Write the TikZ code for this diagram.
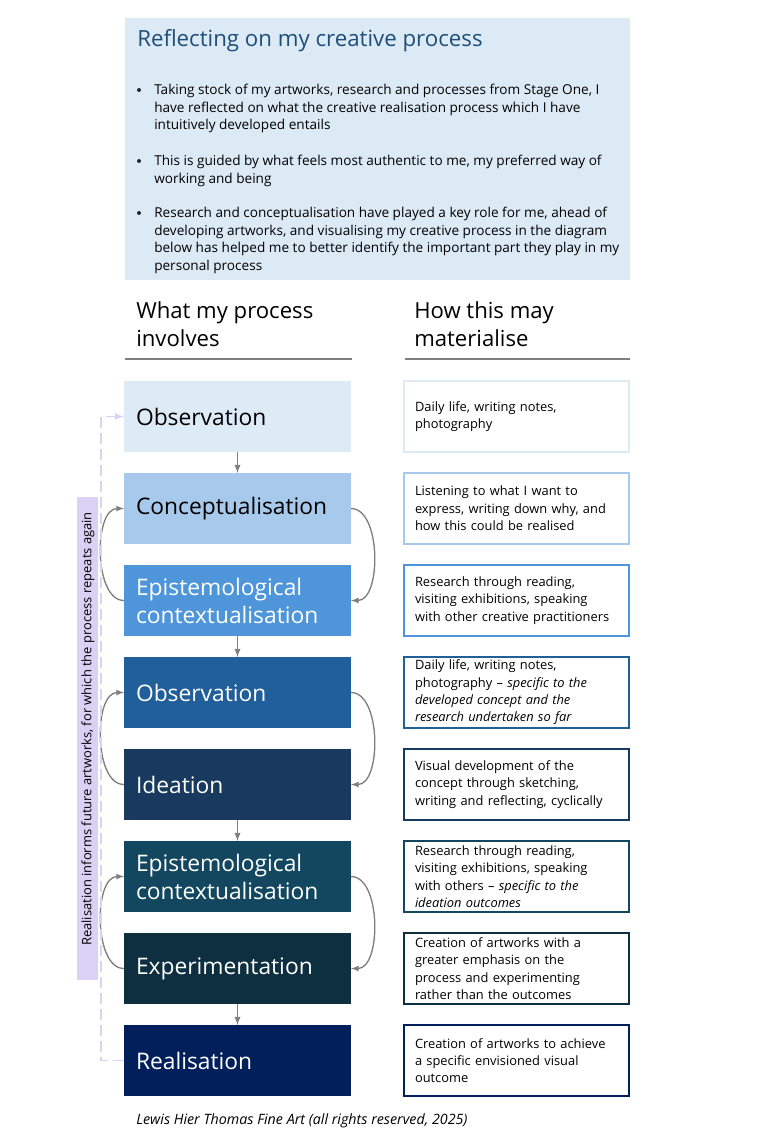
\documentclass[tikz,border=0pt]{standalone}
\usepackage{fontspec}
\setmainfont{Open Sans}
\usetikzlibrary{positioning,arrows}

\definecolor{introblue}{HTML}{DCEAF6}
\definecolor{titleblue}{HTML}{1F4E79}
\definecolor{obsone}{HTML}{DDEBF7}
\definecolor{concept}{HTML}{A6C9EC}
\definecolor{epione}{HTML}{4E95D9}
\definecolor{obstwo}{HTML}{215F9A}
\definecolor{ideation}{HTML}{183A5E}
\definecolor{epitwo}{HTML}{12475F}
\definecolor{experiment}{HTML}{0E2F40}
\definecolor{realise}{HTML}{001F5B}
\definecolor{lavender}{HTML}{D9D2F4}
\definecolor{arrowgrey}{HTML}{7F7F7F}

\tikzset{
  introbox/.style={anchor=north west, fill=introblue, minimum width=378.75pt, minimum height=196.5pt, inner sep=0pt},
  bulletdot/.style={circle, fill=black!85, inner sep=0pt, minimum size=3pt},
  bullettext/.style={anchor=north west, inner sep=0pt, align=left, font=\fontsize{10.2}{13.1}\selectfont},
  headtext/.style={anchor=north west, inner sep=0pt, align=left, font=\fontsize{16.6}{21}\selectfont},
  stepbox/.style={anchor=north west, minimum width=170.25pt, minimum height=53.25pt, inner xsep=9pt, inner ysep=0pt,
    text width=152.25pt, align=left, outer sep=0pt, font=\fontsize{17.1}{21}\selectfont},
  notebox/.style={anchor=north west, draw, line width=1.5pt, fill=white, minimum width=168.75pt, minimum height=53.25pt,
    inner xsep=8.25pt, inner ysep=0pt, text width=152.25pt, align=left, outer sep=0pt, font=\fontsize{9.65}{13}\selectfont},
  flowarrow/.style={-latex, draw=arrowgrey, line width=1.1pt},
  looparrow/.style={-latex, draw=arrowgrey, line width=1pt},
  repeatline/.style={-latex, draw=lavender, dashed, dash pattern=on 8pt off 4pt, line width=1.3pt}
}

\begin{document}
\begin{tikzpicture}[x=0.75pt, y=-0.75pt]
\useasboundingbox (0,0) rectangle (756,1134);

% introduction
\node[introbox] (intro) at (125,18) {};
\node[anchor=base west, inner sep=0pt, text=titleblue, font=\fontsize{16.7}{20}\selectfont] (title) at (137,47) {Reflecting on my creative process};
\node[bulletdot] (dotA) at (139,90) {};
\node[bullettext] (bulletA) at (154,84) {Taking stock of my artworks, research and processes from Stage One, I\\have reflected on what the creative realisation process which I have\\intuitively developed entails};
\node[bulletdot] (dotB) at (139,161) {};
\node[bullettext] (bulletB) at (154,155) {This is guided by what feels most authentic to me, my preferred way of\\working and being};
\node[bulletdot] (dotC) at (139,213) {};
\node[bullettext] (bulletC) at (154,207) {Research and conceptualisation have played a key role for me, ahead of\\developing artworks, and visualising my creative process in the diagram\\below has helped me to better identify the important part they play in my\\personal process};

% column headings
\node[headtext] (headleft) at (136,301) {What my process\\involves};
\node[headtext] (headright) at (414,301) {How this may\\materialise};
\draw[arrowgrey, line width=1.5pt] (125,359) -- (352,359);
\draw[arrowgrey, line width=1.5pt] (405,359) -- (630,359);

% process steps
\node[stepbox, fill=obsone] (obsA) at (124,381) {Observation};
\node[stepbox, fill=concept] (con) at (124,473) {Conceptualisation};
\node[stepbox, fill=epione, text=white] (epiA) at (124,565) {Epistemological\\contextualisation};
\node[stepbox, fill=obstwo, text=white] (obsB) at (124,657) {Observation};
\node[stepbox, fill=ideation, text=white] (ide) at (124,749) {Ideation};
\node[stepbox, fill=epitwo, text=white] (epiB) at (124,841) {Epistemological\\contextualisation};
\node[stepbox, fill=experiment, text=white] (exper) at (124,933) {Experimentation};
\node[stepbox, fill=realise, text=white] (rea) at (124,1025) {Realisation};

% how it may materialise
\node[notebox, draw=obsone] (noteA) at (404,381) {Daily life, writing notes,\\photography};
\node[notebox, draw=concept] (noteB) at (404,473) {Listening to what I want to\\express, writing down why, and\\how this could be realised};
\node[notebox, draw=epione] (noteC) at (404,565) {Research through reading,\\visiting exhibitions, speaking\\with other creative practitioners};
\node[notebox, draw=obstwo] (noteD) at (404,657) {Daily life, writing notes,\\photography -- \textit{specific to the}\\\textit{developed concept and the}\\\textit{research undertaken so far}};
\node[notebox, draw=ideation] (noteE) at (404,749) {Visual development of the\\concept through sketching,\\writing and reflecting, cyclically};
\node[notebox, draw=epitwo] (noteF) at (404,841) {Research through reading,\\visiting exhibitions, speaking\\with others -- \textit{specific to the}\\\textit{ideation outcomes}};
\node[notebox, draw=experiment] (noteG) at (404,933) {Creation of artworks with a\\greater emphasis on the\\process and experimenting\\rather than the outcomes};
\node[notebox, draw=realise] (noteH) at (404,1025) {Creation of artworks to achieve\\a specific envisioned visual\\outcome};

% flow between steps
\draw[flowarrow] (obsA) -- (con);
\draw[flowarrow] (epiA) -- (obsB);
\draw[flowarrow] (ide) -- (epiB);
\draw[flowarrow] (exper) -- (rea);

% back and forth loops
\draw[looparrow] (con.east) to[out=0, in=0, looseness=0.85] (epiA.east);
\draw[looparrow] (epiA.west) to[out=180, in=180, looseness=0.85] (con.west);
\draw[looparrow] (obsB.east) to[out=0, in=0, looseness=0.85] (ide.east);
\draw[looparrow] (ide.west) to[out=180, in=180, looseness=0.85] (obsB.west);
\draw[looparrow] (epiB.east) to[out=0, in=0, looseness=0.85] (exper.east);
\draw[looparrow] (exper.west) to[out=180, in=180, looseness=0.85] (epiB.west);

% repeat
\draw[repeatline] (rea.west) -- ++(-23,0) |- (obsA.west);
\node[fill=lavender, minimum width=15.75pt, minimum height=362.25pt, inner sep=0pt] (againbox) at (87.5,738.5) {};
\node[rotate=90, inner sep=0pt, font=\fontsize{9.7}{11}\selectfont] (again) at (88,729) {Realisation informs future artworks, for which the process repeats again};

\node[anchor=west, inner sep=0pt, font=\fontsize{10.7}{11}\selectfont\itshape] (credit) at (136,1121) {Lewis Hier Thomas Fine Art (all rights reserved, 2025)};
\end{tikzpicture}
\end{document}
